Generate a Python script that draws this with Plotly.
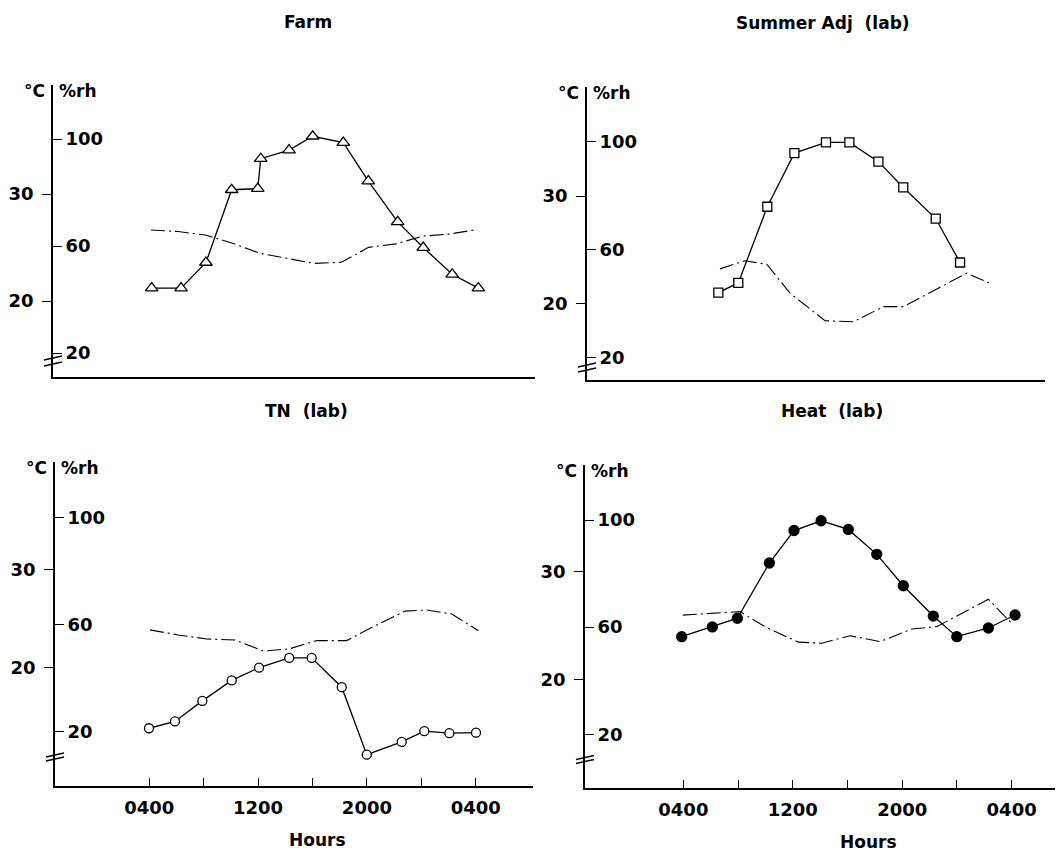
import plotly.graph_objects as go

W, H = 1056, 861

# ---------------- data ----------------
# Farm
farm_hours = [4.05, 6.21, 8.04, 9.93, 11.85, 12.07, 14.15, 15.89, 18.14, 19.98, 22.14, 24.02, 26.15, 28.07]
farm_temp = [21.2, 21.2, 23.6, 30.4, 30.5, 33.3, 34.1, 35.4, 34.8, 31.2, 27.4, 25.0, 22.5, 21.2]
farm_rh_hours = [4, 6, 8, 10, 12, 14, 16, 18, 20, 22, 24, 26, 28]
farm_rh = [66.0, 65.4, 64.1, 61.0, 57.3, 55.4, 53.5, 53.9, 59.5, 60.8, 63.7, 64.5, 66.2]

# Summer Adj (lab)
summer_hours = [6.58, 8.04, 10.16, 12.14, 14.45, 16.16, 18.28, 20.10, 22.47, 24.25]
summer_temp = [21.0, 21.9, 29.0, 34.0, 35.0, 35.0, 33.2, 30.8, 27.9, 23.8]
summer_rh_hours = [6.70, 8.53, 10.12, 11.82, 14.38, 16.45, 18.64, 20.10, 22.42, 24.74, 26.57]
summer_rh = [52.9, 55.9, 54.6, 43.9, 33.7, 33.3, 38.9, 38.9, 45.1, 51.3, 47.3]

# TN (lab)
tn_hours = [3.98, 5.89, 7.90, 10.06, 12.07, 14.29, 15.94, 18.15, 19.99, 22.56, 24.22, 26.06, 28.02]
tn_temp = [13.8, 14.5, 16.6, 18.7, 20.0, 21.0, 21.0, 18.0, 11.1, 12.4, 13.5, 13.3, 13.35]
tn_rh_hours = [4.05, 6.13, 8.22, 10.30, 12.38, 14.29, 16.31, 18.51, 20.47, 22.80, 24.40, 26.24, 28.19]
tn_rh = [58.0, 56.1, 54.6, 54.2, 50.1, 50.9, 54.0, 54.0, 59.2, 65.0, 65.4, 63.9, 57.7]

# Heat (lab)
heat_hours = [3.88, 6.12, 7.95, 10.29, 12.09, 14.07, 16.06, 18.14, 20.08, 22.27, 23.99, 26.30, 28.25]
heat_temp = [24.0, 24.9, 25.7, 30.8, 33.8, 34.7, 33.9, 31.6, 28.7, 25.9, 24.0, 24.8, 26.0]
heat_rh_hours = [3.96, 5.95, 8.14, 10.10, 12.41, 14.12, 16.19, 18.38, 20.70, 22.52, 24.47, 26.30, 28.01]
heat_rh = [64.5, 65.2, 65.8, 59.8, 54.4, 54.0, 56.8, 54.6, 59.3, 60.2, 65.4, 70.4, 61.4]

panel_titles = ["Farm", "Summer Adj  (lab)", "TN  (lab)", "Heat  (lab)"]
temp_ticks = [20, 30]
rh_ticks = [20, 60, 100]
hour_tick_vals = [4, 8, 12, 16, 20, 24, 28]
hour_tick_text = ["0400", "", "1200", "", "2000", "", "0400"]
x_title = "Hours"
temp_unit = "°C"
rh_unit = "%rh"

# (hours, temp, rh hours, rh, marker symbol, marker size, marker fill)
series = [
    (farm_hours, farm_temp, farm_rh_hours, farm_rh, "triangle-up", 11, "white"),
    (summer_hours, summer_temp, summer_rh_hours, summer_rh, "square", 9, "white"),
    (tn_hours, tn_temp, tn_rh_hours, tn_rh, "circle", 9, "white"),
    (heat_hours, heat_temp, heat_rh_hours, heat_rh, "circle", 10, "black"),
]

# ---------------- layout geometry (pixels) ----------------
panels = [
    dict(x0=53, x1=535, yb=377, yt=85, xr=(-3.21, 32.24), tr=(12.90, 40.19), rr=(11.03, 120.19),
         bottom=False, title_xy=(308, 22), brk=(19, 13)),
    dict(x0=587, x1=1045, yb=380, yt=87, xr=(-3.02, 30.46), tr=(12.85, 40.16), rr=(11.74, 120.26),
         bottom=False, title_xy=(823, 23), brk=(15, 10)),
    dict(x0=55, x1=533, yb=786, yt=462, xr=(-2.93, 32.21), tr=(7.89, 41.05), rr=(-0.26, 120.63),
         bottom=True, title_xy=(306, 411), brk=(31, 27), hours_xy=(317, 840)),
    dict(x0=585, x1=1055, yb=787.5, yt=465, xr=(-3.19, 31.17), tr=(10.07, 39.85), rr=(0.15, 120.53),
         bottom=True, title_xy=(832, 411), brk=(30, 26), hours_xy=(868, 842)),
]


def px(x):
    return x / W


def py(y):
    return 1 - y / H


FONT = "DejaVu Sans"
tickfont = dict(family=FONT, size=18, color="black", weight="bold")
titlefont = dict(family=FONT, size=17, color="black", weight="bold")

fig = go.Figure()
layout = dict(
    width=W, height=H, margin=dict(l=0, r=0, t=0, b=0),
    paper_bgcolor="white", plot_bgcolor="white", showlegend=False,
)
annotations = []
shapes = []

for i, (p, s) in enumerate(zip(panels, series)):
    xn = i + 1
    xkey = "xaxis" if xn == 1 else f"xaxis{xn}"
    xref = "x" if xn == 1 else f"x{xn}"
    base = 4 * i + 1
    ynames = [base, base + 1, base + 2, base + 3]
    ykeys = ["yaxis" if n == 1 else f"yaxis{n}" for n in ynames]
    yrefs = ["y" if n == 1 else f"y{n}" for n in ynames]

    xax = dict(domain=[px(p["x0"]), px(p["x1"])], range=list(p["xr"]), anchor=yrefs[0],
               showline=True, linecolor="black", linewidth=1.6, showgrid=False, zeroline=False)
    if p["bottom"]:
        xax.update(tickmode="array", tickvals=hour_tick_vals, ticktext=hour_tick_text,
                   ticks="inside", ticklen=8, tickwidth=1.4, tickcolor="black",
                   tickfont=tickfont, ticklabelstandoff=5)
    else:
        xax.update(showticklabels=False, ticks="")
    layout[xkey] = xax

    common = dict(anchor=xref, showgrid=False, zeroline=False, tickcolor="black", tickwidth=1.4)
    # temperature axis (labels left, ticks outside)
    layout[ykeys[0]] = dict(domain=[py(p["yb"]), py(p["yt"])], range=list(p["tr"]),
                            tickmode="array", tickvals=temp_ticks, ticks="outside", ticklen=9,
                            showline=True, linecolor="black", linewidth=1.6,
                            tickfont=tickfont, ticklabelstandoff=5, **common)
    # temperature inner tick half
    layout[ykeys[1]] = dict(overlaying=yrefs[0], range=list(p["tr"]), tickmode="array",
                            tickvals=temp_ticks, ticks="inside", ticklen=9,
                            showticklabels=False, showline=False, **common)
    # RH axis (labels inside)
    layout[ykeys[2]] = dict(overlaying=yrefs[0], range=list(p["rr"]), tickmode="array",
                            tickvals=rh_ticks, ticks="inside", ticklen=9,
                            ticklabelposition="inside", showline=False, ticklabelstandoff=4,
                            tickfont=tickfont, **common)
    # RH outer tick half
    layout[ykeys[3]] = dict(overlaying=yrefs[0], range=list(p["rr"]), tickmode="array",
                            tickvals=rh_ticks, ticks="outside", ticklen=9,
                            showticklabels=False, showline=False, **common)

    hrs, temp, rh_hrs, rh, sym, msize, mfill = s
    fig.add_trace(go.Scatter(
        x=rh_hrs, y=rh, xaxis=xref, yaxis=yrefs[2], mode="lines",
        line=dict(color="black", width=1.1, dash="14px,4px,2px,4px"), hoverinfo="skip"))
    fig.add_trace(go.Scatter(
        x=hrs, y=temp, xaxis=xref, yaxis=yrefs[0], mode="lines+markers",
        line=dict(color="black", width=1.3),
        marker=dict(symbol=sym, size=msize, color=mfill,
                    line=dict(color="black", width=1.3))))

    # titles
    tx, ty = p["title_xy"]
    annotations.append(dict(x=px(tx), y=py(ty), xref="paper", yref="paper", text=panel_titles[i],
                            showarrow=False, font=titlefont, xanchor="center", yanchor="middle"))
    if p.get("hours_xy"):
        hx, hy = p["hours_xy"]
        annotations.append(dict(x=px(hx), y=py(hy), xref="paper", yref="paper", text=x_title,
                                showarrow=False, font=titlefont, xanchor="center", yanchor="middle"))
    # unit labels at top of axis
    annotations.append(dict(x=px(p["x0"] - 6), y=py(p["yt"] + 6), xref="paper", yref="paper",
                            text=temp_unit, showarrow=False, font=titlefont,
                            xanchor="right", yanchor="middle"))
    annotations.append(dict(x=px(p["x0"] + 4), y=py(p["yt"] + 6), xref="paper", yref="paper",
                            text=rh_unit, showarrow=False, font=titlefont,
                            xanchor="left", yanchor="middle"))
    # axis break marks
    for off in p["brk"]:
        yy = p["yb"] - off
        shapes.append(dict(type="line", xref="paper", yref="paper",
                           x0=px(p["x0"] - 9), y0=py(yy + 2), x1=px(p["x0"] + 9), y1=py(yy - 2),
                           line=dict(color="black", width=1.3)))

layout["annotations"] = annotations
layout["shapes"] = shapes
fig.update_layout(**layout)

fig.write_html("out.html", config={"displayModeBar": False},
               post_script="document.body.style.margin='0';")
